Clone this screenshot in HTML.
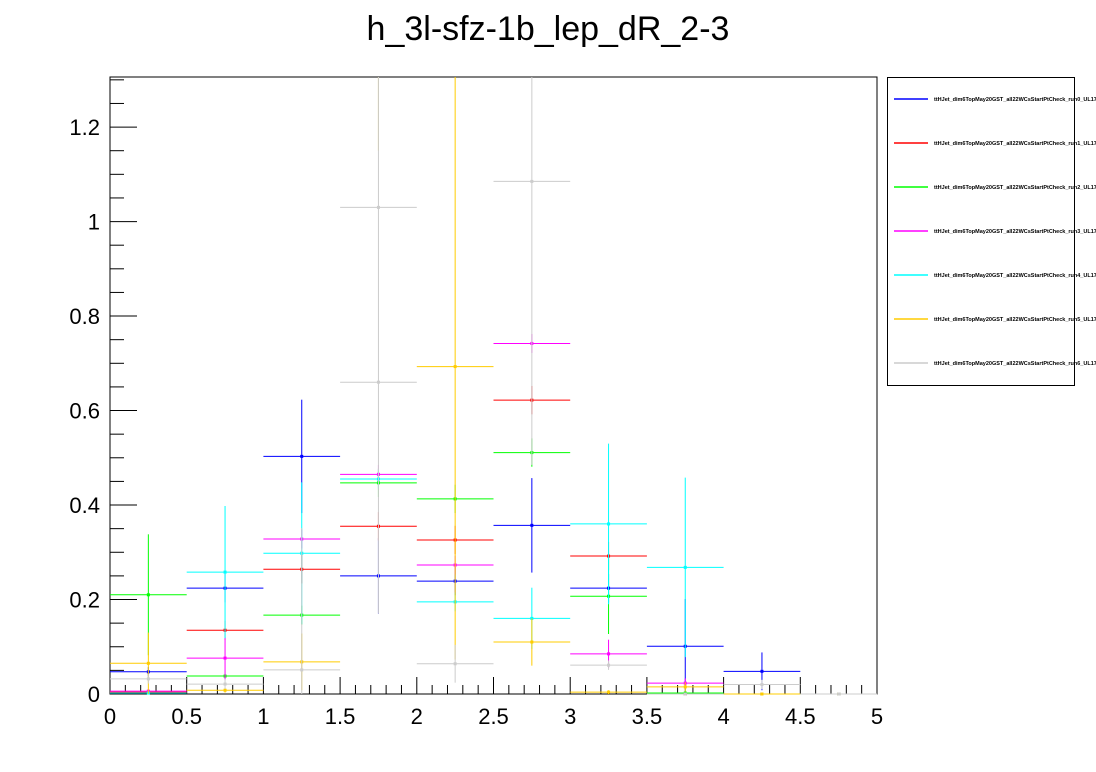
<!DOCTYPE html>
<html><head><meta charset="utf-8"><style>
body{margin:0;background:#fff;}
svg{display:block;font-family:"Liberation Sans",sans-serif;}
</style></head><body>
<svg id="c" width="1096" height="772">
<text x="548" y="40" font-size="34" text-anchor="middle">h_3l-sfz-1b_lep_dR_2-3</text>
<rect x="110" y="77" width="767" height="617" fill="none" stroke="#000"/>
<g id="ticks"></g>
<g id="marks"></g>
<g id="legend">
<rect x="887.5" y="77.5" width="187" height="308" fill="#fff" stroke="#000"/>
</g>
</svg>
<script>
const binEdges=[0,0.5,1,1.5,2,2.5,3,3.5,4,4.5,5];
const seriesNames=["run0","run1","run2","run3","run4","run5","run6","extra"];
const seriesColors=["#0000ff","#ff0000","#00ff00","#ff00ff","#00ffff","#ffcc00","#cccccc","#cccccc"];
const blueVals=[0.047,0.224,0.503,0.25,0.239,0.357,0.224,0.101,0.048,0];
const blueErr=[0.01,0.03,0.12,0.08,0.03,0.1,0.03,0.1,0.04,0];
const redVals=[0.004,0.135,0.264,0.355,0.326,0.622,0.292,0,0,0];
const redErr=[0.004,0.02,0.03,0.03,0.03,0.03,0.03,0,0,0];
const greenVals=[0.21,0.038,0.167,0.447,0.413,0.511,0.207,0.002,0,0];
const greenErr=[0.128,0.005,0.02,0.03,0.03,0.03,0.08,0.002,0,0];
const magentaVals=[0.006,0.076,0.328,0.465,0.273,0.742,0.085,0.023,0,0];
const magentaErr=[0.004,0.045,0.02,0.02,0.02,0.02,0.03,0.01,0,0];
const cyanVals=[0.002,0.258,0.298,0.455,0.195,0.16,0.36,0.268,0,0];
const cyanErr=[0.002,0.14,0.15,0.02,0.02,0.065,0.17,0.19,0,0];
const yellowVals=[0.065,0.008,0.068,1.5,0.693,0.11,0.004,0.015,0,0];
const yellowErr=[0.065,0.005,0.06,0.35,0.62,0.05,0.004,0.01,0,0];
const grayVals=[0.032,0.021,0.051,1.03,0.064,1.085,0.061,0,0.02,0];
const grayErr=[0.01,0.01,0.3,0.86,0.04,0.6,0.01,0,0.01,0];
const extraVals=[null,null,null,0.66,null,null,null,null,null,null];
const extraErr=[0,0,0,0,0,0,0,0,0,0];
const allVals=[blueVals,redVals,greenVals,magentaVals,cyanVals,yellowVals,grayVals,extraVals];
const allErr=[blueErr,redErr,greenErr,magentaErr,cyanErr,yellowErr,grayErr,extraErr];
const xTickLabels=["0","0.5","1","1.5","2","2.5","3","3.5","4","4.5","5"];
const yTickLabels=["0","0.2","0.4","0.6","0.8","1","1.2"];
const X0=110,X1=877,Y0=694,Y1=77,XMAX=5,YMAX=1.306;
const xs=v=>X0+v/XMAX*(X1-X0);
const ys=v=>Y0-v/YMAX*(Y0-Y1);
const NS="http://www.w3.org/2000/svg";
function mk(tag,attrs,parent){const e=document.createElementNS(NS,tag);for(const k in attrs)e.setAttribute(k,attrs[k]);parent.appendChild(e);return e;}
const tg=document.getElementById('ticks');
for(let i=0;i<=50;i++){const v=i*0.1;const x=xs(v);const major=i%5===0;
 const t=mk('line',{x1:x,x2:x,y1:Y0,y2:Y0-(major?17:9),stroke:'#000'},tg);
 
 }
xTickLabels.forEach(l=>{const v=parseFloat(l);const t=mk('text',{x:xs(v),y:724,'font-size':22,'text-anchor':'middle'},tg);t.textContent=l;
 
 });
for(let i=0;i*0.05<=YMAX;i++){const v=i*0.05;const y=ys(v);const major=i%4===0;
 const t=mk('line',{x1:X0,x2:X0+(major?27:14),y1:y,y2:y,stroke:'#000'},tg);
 
 }
yTickLabels.forEach(l=>{const v=parseFloat(l);const t=mk('text',{x:100,y:ys(v)+8,'font-size':22,'text-anchor':'end'},tg);t.textContent=l;
 
 });
const mg=document.getElementById('marks');
const clipY=v=>Math.max(Y1,Math.min(Y0,ys(v)));
allVals.forEach((vals,s)=>{const col=seriesColors[s];
 vals.forEach((v,b)=>{if(v===null)return;
  const g=mk('g',{},mg);
  
  
  const xa=xs(binEdges[b]),xb=xs(binEdges[b+1]),xc=(xa+xb)/2,e=allErr[s][b];
  if(v<=YMAX){const y=ys(v);mk('line',{x1:xa,x2:xb,y1:y,y2:y,stroke:col,'stroke-width':1},g);
   mk('rect',{x:xc-1.5,y:y-1.5,width:3,height:3,fill:col},g);}
  if(e>0){mk('line',{x1:xc,x2:xc,y1:clipY(v+e),y2:clipY(v-e),stroke:col,'stroke-width':1},g);}
 });});
const lg=document.getElementById('legend');
seriesNames.slice(0,7).forEach((n,i)=>{const y=99+i*44;
 const g=mk('g',{},lg);
 
 
 mk('line',{x1:894,x2:928,y1:y,y2:y,stroke:seriesColors[i],'stroke-width':1.5},g);
 const t=mk('text',{x:934,y:y+2,'font-size':5.5,'font-weight':'bold'},g);
 t.textContent='ttHJet_dim6TopMay20GST_all22WCsStartPtCheck_'+n+'_UL17';});
</script>
</body></html>
